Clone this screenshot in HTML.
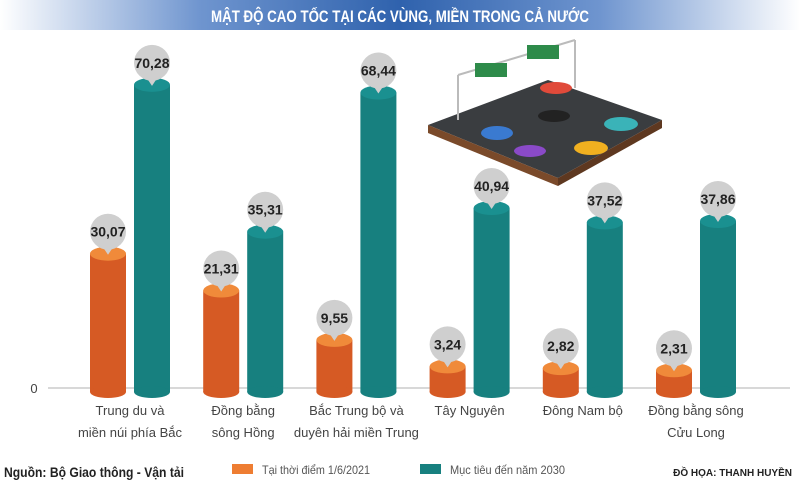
<!DOCTYPE html>
<html><head><meta charset="utf-8"><style>
body{margin:0;width:800px;height:495px;background:#fff;overflow:hidden;font-family:"Liberation Sans",sans-serif}
svg{display:block}
</style></head><body>
<svg id="chart" width="800" height="495" viewBox="0 0 800 495">
<defs>
<linearGradient id="ban" x1="0" x2="1" y1="0" y2="0">
<stop offset="0" stop-color="#fff"/><stop offset="0.25" stop-color="#6f95cf"/><stop offset="0.5" stop-color="#2f62ad"/><stop offset="0.75" stop-color="#6f95cf"/><stop offset="1" stop-color="#fff"/>
</linearGradient>
</defs>
<rect x="0" y="0" width="800" height="30" fill="url(#ban)"/>
<text x="400" y="22" text-anchor="middle" fill="#fff" font-weight="bold" font-size="17" font-family="Liberation Sans Narrow, Liberation Sans, sans-serif" textLength="378" lengthAdjust="spacingAndGlyphs">MẬT ĐỘ CAO TỐC TẠI CÁC VÙNG, MIỀN TRONG CẢ NƯỚC</text>
<g>
<polygon points="428,125 548,80 662,120 558,178" fill="#3a3d40"/>
<polygon points="428,125 558,178 558,186 428,133" fill="#7a4a2a"/>
<polygon points="558,178 662,120 662,128 558,186" fill="#5e3820"/>
<line x1="458" y1="120" x2="458" y2="75" stroke="#bbb" stroke-width="2"/>
<line x1="575" y1="88" x2="575" y2="40" stroke="#bbb" stroke-width="2"/>
<line x1="458" y1="75" x2="575" y2="40" stroke="#bbb" stroke-width="2"/>
<rect x="475" y="63" width="32" height="14" fill="#2e8b4a"/>
<rect x="527" y="45" width="32" height="14" fill="#2e8b4a"/>
<ellipse cx="556" cy="88" rx="16" ry="6" fill="#e04a3a"/>
<ellipse cx="554" cy="116" rx="16" ry="6" fill="#222"/>
<ellipse cx="621" cy="124" rx="17" ry="7" fill="#3ab3b8"/>
<ellipse cx="497" cy="133" rx="16" ry="7" fill="#3a7ad0"/>
<ellipse cx="530" cy="151" rx="16" ry="6" fill="#8a4ac8"/>
<ellipse cx="591" cy="148" rx="17" ry="7" fill="#f0b020"/>
</g>
<line x1="48" y1="388" x2="790" y2="388" stroke="#ccc" stroke-width="1.5"/>
<text x="34" y="393" text-anchor="middle" font-size="13" fill="#444">0</text>
<g id="bars"></g>
<g>
<rect x="232" y="464" width="21" height="10" fill="#ee7d32"/>
<text x="262" y="474" font-size="12" fill="#555" textLength="108" lengthAdjust="spacingAndGlyphs">Tại thời điểm 1/6/2021</text>
<rect x="420" y="464" width="21" height="10" fill="#17807f"/>
<text x="450" y="474" font-size="12" fill="#555" textLength="115" lengthAdjust="spacingAndGlyphs">Mục tiêu đến năm 2030</text>
</g>
<text x="4" y="477" font-size="14" font-weight="bold" fill="#222" textLength="180" lengthAdjust="spacingAndGlyphs">Nguồn: Bộ Giao thông - Vận tải</text>
<text x="792" y="476" text-anchor="end" font-size="10" font-weight="bold" fill="#222">ĐỒ HỌA: THANH HUYỀN</text>
</svg>
<script>
const categories=[["Trung du và","miền núi phía Bắc"],["Đồng bằng","sông Hồng"],["Bắc Trung bộ và","duyên hải miền Trung"],["Tây Nguyên",""],["Đông Nam bộ",""],["Đồng bằng sông","Cửu Long"]];
const current2021=[30.07,21.31,9.55,3.24,2.82,2.31];
const target2030=[70.28,35.31,68.44,40.94,37.52,37.86];
const labels2021=["30,07","21,31","9,55","3,24","2,82","2,31"];
const labels2030=["70,28","35,31","68,44","40,94","37,52","37,86"];
const NS="http://www.w3.org/2000/svg";
const g=document.getElementById('bars');
const base=388,k=4.2;
function xGroup(i){return 108+i*113.2;}
function yVal(v){return base-8-v*k;}
function mk(t,a){const e=document.createElementNS(NS,t);for(const n in a)e.setAttribute(n,a[n]);return e;}
function bar(cx,v,lab,side,cap,key,i){
  const w=36,y=yVal(v);
  const grp=mk('g',{});
  
  
  grp.appendChild(mk('rect',{x:cx-w/2,y:y,width:w,height:base+4-y,fill:side}));
  grp.appendChild(mk('ellipse',{cx:cx,cy:base+4,rx:w/2,ry:6,fill:side}));
  grp.appendChild(mk('ellipse',{cx:cx,cy:y,rx:w/2,ry:7,fill:cap}));
  grp.appendChild(mk('circle',{cx:cx,cy:y-22,r:18,fill:'#cfcfcf'}));
  grp.appendChild(mk('polygon',{points:(cx-6)+','+(y-8)+' '+(cx+6)+','+(y-8)+' '+cx+','+(y+1),fill:'#cfcfcf'}));
  const t=mk('text',{x:cx,y:y-17,'text-anchor':'middle','font-size':14,'font-weight':'bold',fill:'#222'});
  t.textContent=lab;
  
  
  grp.appendChild(t);
  g.appendChild(grp);
}
categories.forEach((c,i)=>{
  const x=xGroup(i);
  bar(x,current2021[i],labels2021[i],'#d65a24','#f08a3a','2021',i);
  bar(x+44,target2030[i],labels2030[i],'#17807f','#1a9090','2030',i);
  c.forEach((line,j)=>{
    if(!line)return;
    const t=mk('text',{x:x+22,y:415+j*22,'text-anchor':'middle','font-size':13,fill:'#444'});
    t.textContent=line;
    
    
    g.appendChild(t);
  });
});
</script>
</body></html>
